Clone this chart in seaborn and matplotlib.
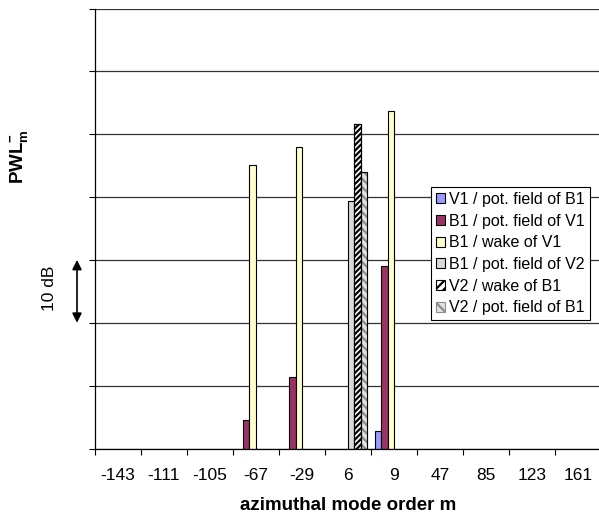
import numpy as np
import pandas as pd
import matplotlib
matplotlib.use('Agg')
import matplotlib.pyplot as plt
import matplotlib.transforms as mtransforms
from matplotlib.patches import Patch, Rectangle
import seaborn as sns

# azimuthal mode orders (categories) and levels in dB (one gridline = 10 dB)
modes = ['-143', '-111', '-105', '-67', '-29', '6', '9', '47', '85', '123', '161']
series = ['V1 / pot. field of B1', 'B1 / pot. field of V1', 'B1 / wake of V1',
          'B1 / pot. field of V2', 'V2 / wake of B1', 'V2 / pot. field of B1']

v1_pot_b1 = [0, 0, 0, 0, 0, 0, 2.8, 0, 0, 0, 0]
b1_pot_v1 = [0, 0, 0, 4.5, 11.3, 0, 29.1, 0, 0, 0, 0]
b1_wake_v1 = [0, 0, 0, 45.1, 48.0, 0, 53.7, 0, 0, 0, 0]
b1_pot_v2 = [0, 0, 0, 0, 0, 39.3, 0, 0, 0, 0, 0]
v2_wake_b1 = [0, 0, 0, 0, 0, 51.7, 0, 0, 0, 0, 0]
v2_pot_b1 = [0, 0, 0, 0, 0, 44.0, 0, 0, 0, 0, 0]

colors = ['#9999FF', '#993366', '#FFFFCC', '#DADADA', '#FFFFFF', '#E2E2E2']

rows = []
for name, vals in zip(series, [v1_pot_b1, b1_pot_v1, b1_wake_v1, b1_pot_v2, v2_wake_b1, v2_pot_b1]):
    for m, v in zip(modes, vals):
        if v > 0:
            rows.append((m, v, name))
df = pd.DataFrame(rows, columns=['mode', 'level', 'series'])

sns.set_style('white')
plt.rcParams['font.family'] = ['Liberation Sans', 'DejaVu Sans']
plt.rcParams['mathtext.fontset'] = 'custom'
plt.rcParams['mathtext.rm'] = 'Liberation Sans'
plt.rcParams['mathtext.bf'] = 'Liberation Sans:bold'
plt.rcParams['hatch.linewidth'] = 1.6
for k in ['text.color', 'axes.labelcolor', 'xtick.color', 'ytick.color']:
    plt.rcParams[k] = 'black'

fig = plt.figure(figsize=(5.99, 5.18), dpi=100)
ax = fig.add_axes([94.5 / 599, 69.5 / 518, 507 / 599, 440 / 518])

sns.barplot(data=df, x='mode', y='level', hue='series', order=modes, hue_order=series,
            palette=colors, width=0.826, saturation=1, errorbar=None,
            edgecolor='black', linewidth=0.8, legend=False, ax=ax)

# patterns for the last two series
hatch_style = {3: (None, 'black'), 4: ('//////', 'black'), 5: ('\\\\\\\\', '#8C8C8C')}
for i, cont in enumerate(ax.containers):
    if i in hatch_style:
        h, ec = hatch_style[i]
        for bar in cont:
            if h:
                bar.set_hatch(h)
                bar.set_edgecolor(ec)
                ax.add_patch(Rectangle(bar.get_xy(), bar.get_width(), bar.get_height(),
                                       fill=False, edgecolor='black', linewidth=0.8, zorder=bar.get_zorder() + 0.1))

ax.set_xlim(-0.5, len(modes) - 0.5)
ax.set_ylim(0, 70)
ax.set_yticks(np.arange(0, 71, 10))
ax.set_yticklabels([])
ax.set_xticks(np.arange(-0.5, len(modes), 1), minor=True)
ax.tick_params(axis='x', which='major', length=0, pad=14, labelsize=12.5, labelcolor='black')
ax.tick_params(axis='x', which='minor', bottom=True, length=4, width=0.8, direction='out', color='black')
ax.tick_params(axis='y', length=4, width=0.8, direction='out', color='black', left=True)
ax.yaxis.grid(True, color='#333333', linewidth=0.9)
ax.set_axisbelow(True)
for s in ['top', 'right']:
    ax.spines[s].set_visible(False)
for s in ['left', 'bottom']:
    ax.spines[s].set_color('black')
    ax.spines[s].set_linewidth(0.9)

ax.set_xlabel('azimuthal mode order m', fontsize=13.5, fontweight='bold', labelpad=10, color='black')
ax.set_ylabel('')

fig.text(20 / 599, 1 - 157 / 518, r'$\mathbf{PWL}^{\mathbf{-}}_{\mathbf{m}}$', rotation=90,
         ha='center', va='center', fontsize=13.5, color='black')

blend = mtransforms.blended_transform_factory(fig.transFigure, ax.transData)
ax.annotate('', xy=(77 / 599, 30), xytext=(77 / 599, 20), xycoords=blend, textcoords=blend,
            arrowprops=dict(arrowstyle='<|-|>', color='black', lw=1.2, mutation_scale=14,
                            shrinkA=0, shrinkB=0), annotation_clip=False)
ax.text(50 / 599, 25.5, '10 dB', transform=blend, rotation=90, ha='center', va='center',
        fontsize=12.5, color='black')

handles = [Patch(facecolor=colors[0], edgecolor='black', linewidth=0.8),
           Patch(facecolor=colors[1], edgecolor='black', linewidth=0.8),
           Patch(facecolor=colors[2], edgecolor='black', linewidth=0.8),
           Patch(facecolor=colors[3], edgecolor='black', linewidth=0.8),
           Patch(facecolor='white', edgecolor='black', hatch='////', linewidth=0.8),
           Patch(facecolor=colors[5], edgecolor='#8C8C8C', hatch='\\\\\\', linewidth=0.8)]
leg = fig.legend(handles, series, loc='upper left', bbox_to_anchor=(431 / 599, 1 - 187 / 518),
                 bbox_transform=fig.transFigure, fontsize=11.5, frameon=True, fancybox=False,
                 borderaxespad=0, borderpad=0.3, handlelength=0.6, handleheight=0.6,
                 handletextpad=0.25, labelspacing=0.42)
leg.get_frame().set_edgecolor('black')
leg.get_frame().set_linewidth(0.8)
leg.get_frame().set_alpha(1)
for t in leg.get_texts():
    t.set_color('black')

fig.savefig('out.png', dpi=100)
